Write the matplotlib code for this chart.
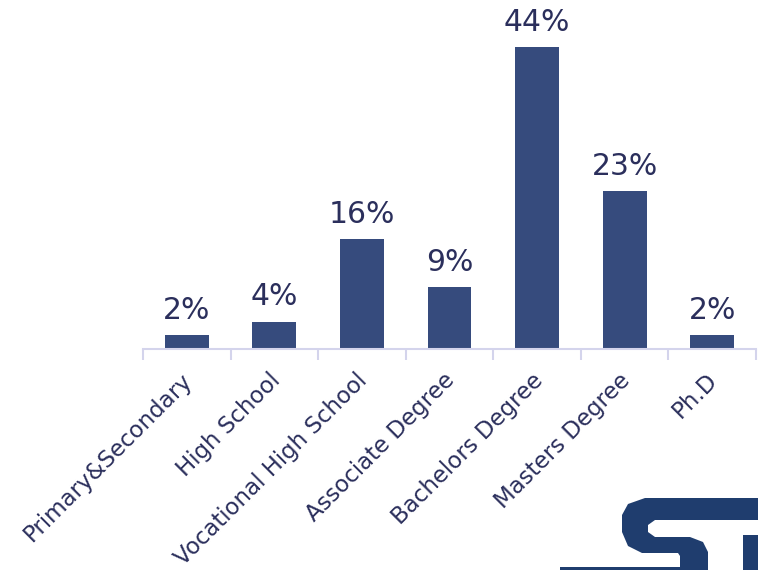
import matplotlib.pyplot as plt
from matplotlib.patches import Polygon
from matplotlib.transforms import ScaledTranslation

# education level shares (%)
categories = ["Primary&Secondary", "High School", "Vocational High School",
              "Associate Degree", "Bachelors Degree", "Masters Degree", "Ph.D"]
values = [2, 4, 16, 9, 44, 23, 2]

bar_color = "#364B7D"
text_color = "#2B2F5C"
axis_color = "#D4D4EC"

fig = plt.figure(figsize=(7.58, 5.70), dpi=100)
ax = fig.add_axes([143 / 758, 221 / 570, 613 / 758, 349 / 570])

x = range(len(values))
ax.bar(x, values, width=0.5, color=bar_color)
for i, v in zip(x, values):
    ax.text(i, v + 1.5, "%d%%" % v, ha="center", va="bottom",
            fontsize=21.5, color=text_color)

ax.set_xlim(-0.5, len(values) - 0.5)
ax.set_ylim(0, 50.9)

# ticks at slot boundaries, labels at centres
ax.set_xticks([i - 0.5 for i in range(len(values) + 1)])
ax.set_xticklabels([])
ax.set_xticks(list(x), minor=True)
ax.set_xticklabels(categories, minor=True, rotation=45, ha="right",
                   rotation_mode="anchor", fontsize=16.5, color=text_color)
ax.tick_params(axis="x", which="major", length=8, width=1.5, color=axis_color, direction="out")
ax.tick_params(axis="x", which="minor", length=0, pad=14)
ax.set_yticks([])
shift = ScaledTranslation(-6 / 100, 0, fig.dpi_scale_trans)
for lbl in ax.get_xticklabels(minor=True):
    lbl.set_transform(lbl.get_transform() + shift)

for s in ["top", "right", "left"]:
    ax.spines[s].set_visible(False)
ax.spines["bottom"].set_color(axis_color)
ax.spines["bottom"].set_linewidth(1.5)

# partial logo in the bottom right corner
def px(pts):
    return [(a / 758, 1 - b / 570) for a, b in pts]

logo_color = "#1F3D6E"
s_shape = [(758, 498), (645, 498), (628, 504), (622, 515), (622, 532), (628, 546),
           (642, 553), (678, 553), (680, 556), (680, 570), (708, 570), (708, 552),
           (703, 542), (690, 537), (655, 537), (648, 532), (648, 525), (655, 520),
           (758, 520)]
fig.add_artist(Polygon(px(s_shape), closed=True, transform=fig.transFigure,
                       color=logo_color, lw=0))
fig.add_artist(Polygon(px([(743, 535), (758, 535), (758, 570), (743, 570)]), closed=True,
                       transform=fig.transFigure, color=logo_color, lw=0))
fig.add_artist(Polygon(px([(560, 567), (680, 567), (680, 570), (560, 570)]), closed=True,
                       transform=fig.transFigure, color=logo_color, lw=0))

fig.savefig("out.png", dpi=100)
